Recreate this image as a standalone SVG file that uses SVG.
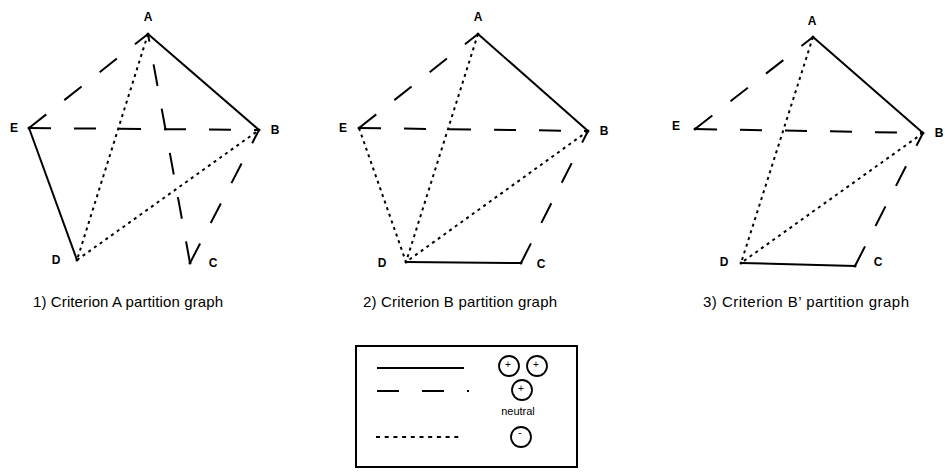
<svg xmlns="http://www.w3.org/2000/svg" width="945" height="473" viewBox="0 0 945 473">
  <style>
    .bg { fill: #ffffff; }
    .solid { stroke: #000; stroke-width: 2; fill: none; }
    .dash { stroke: #000; stroke-width: 2; fill: none; stroke-dasharray: 22 23; }
    .dot { stroke: #000; stroke-width: 2; fill: none; stroke-dasharray: 3 4; }
    .lbl { font-family: "Liberation Sans", Arial, sans-serif; font-weight: bold; font-size: 12px; fill: #000; text-anchor: middle; }
    .cap { font-family: "Liberation Sans", Arial, sans-serif; font-size: 15px; fill: #000; }
    .vtx { fill: #000; }
    .sym { stroke: #000; stroke-width: 1.8; fill: none; }
    .sign { font-family: "Liberation Sans", Arial, sans-serif; font-size: 10px; fill: #000; text-anchor: middle; }
    .word { font-family: "Liberation Sans", Arial, sans-serif; font-size: 11px; fill: #000; text-anchor: middle; }
  </style>
  <rect class="bg" x="0" y="0" width="945" height="473"/>

  <!-- Graph 1 -->
  <g id="graph1-edges">
    <line class="solid" x1="148" y1="34" x2="259" y2="130"/>
    <line class="dash" x1="29" y1="128" x2="148" y2="34"/>
    <line class="dash" x1="29" y1="128" x2="259" y2="130"/>
    <line class="dash" x1="190" y1="263" x2="148" y2="34"/>
    <line class="dash" x1="190" y1="263" x2="259" y2="130"/>
    <line class="solid" x1="29" y1="128" x2="77" y2="260"/>
    <line class="dot" x1="148" y1="34" x2="77" y2="260"/>
    <line class="dot" x1="77" y1="260" x2="259" y2="130"/>
  </g>
  <g id="g1-A"><circle class="vtx" cx="148" cy="34" r="1.5"/><text class="lbl" x="148" y="21">A</text></g>
  <g id="g1-B"><circle class="vtx" cx="259" cy="130" r="1.5"/><text class="lbl" x="275" y="134">B</text></g>
  <g id="g1-C"><circle class="vtx" cx="190" cy="263" r="1.5"/><text class="lbl" x="213" y="267">C</text></g>
  <g id="g1-D"><circle class="vtx" cx="77" cy="260" r="1.5"/><text class="lbl" x="56" y="264">D</text></g>
  <g id="g1-E"><circle class="vtx" cx="29" cy="128" r="1.5"/><text class="lbl" x="14" y="132">E</text></g>
  <text class="cap" x="33" y="307" textLength="190">1) Criterion A partition graph</text>

  <!-- Graph 2 -->
  <g id="graph2-edges">
    <line class="solid" x1="478" y1="34" x2="588" y2="131"/>
    <line class="dash" x1="359" y1="128" x2="478" y2="34"/>
    <line class="dash" x1="359" y1="128" x2="588" y2="131"/>
    <line class="dash" x1="521" y1="263" x2="588" y2="131"/>
    <line class="solid" x1="406" y1="262" x2="521" y2="263"/>
    <line class="dot" x1="359" y1="128" x2="406" y2="262"/>
    <line class="dot" x1="478" y1="34" x2="406" y2="262"/>
    <line class="dot" x1="588" y1="131" x2="406" y2="262"/>
  </g>
  <g id="g2-A"><circle class="vtx" cx="478" cy="34" r="1.5"/><text class="lbl" x="478" y="21">A</text></g>
  <g id="g2-B"><circle class="vtx" cx="588" cy="131" r="1.5"/><text class="lbl" x="604" y="135">B</text></g>
  <g id="g2-C"><circle class="vtx" cx="521" cy="263" r="1.5"/><text class="lbl" x="541" y="268">C</text></g>
  <g id="g2-D"><circle class="vtx" cx="406" cy="262" r="1.5"/><text class="lbl" x="382" y="267">D</text></g>
  <g id="g2-E"><circle class="vtx" cx="359" cy="128" r="1.5"/><text class="lbl" x="343" y="132">E</text></g>
  <text class="cap" x="363" y="307" textLength="194">2) Criterion B partition graph</text>

  <!-- Graph 3 -->
  <g id="graph3-edges">
    <line class="solid" x1="813" y1="37" x2="923" y2="133"/>
    <line class="dash" x1="695" y1="129" x2="813" y2="37"/>
    <line class="dash" x1="695" y1="129" x2="923" y2="133"/>
    <line class="dash" x1="855" y1="266" x2="923" y2="133"/>
    <line class="solid" x1="741" y1="263" x2="855" y2="266"/>
    <line class="dot" x1="813" y1="37" x2="741" y2="263"/>
    <line class="dot" x1="923" y1="133" x2="741" y2="263"/>
  </g>
  <g id="g3-A"><circle class="vtx" cx="813" cy="37" r="1.5"/><text class="lbl" x="812" y="25">A</text></g>
  <g id="g3-B"><circle class="vtx" cx="923" cy="133" r="1.5"/><text class="lbl" x="939" y="137">B</text></g>
  <g id="g3-C"><circle class="vtx" cx="855" cy="266" r="1.5"/><text class="lbl" x="878" y="266">C</text></g>
  <g id="g3-D"><circle class="vtx" cx="741" cy="263" r="1.5"/><text class="lbl" x="724" y="266">D</text></g>
  <g id="g3-E"><circle class="vtx" cx="695" cy="129" r="1.5"/><text class="lbl" x="676" y="130">E</text></g>
  <text class="cap" x="703" y="307" textLength="206">3) Criterion B’ partition graph</text>

  <!-- Legend -->
  <g id="legend">
    <rect x="356" y="346" width="221" height="121" fill="none" stroke="#000" stroke-width="2"/>
    <line class="solid" x1="377" y1="368" x2="464" y2="368"/>
    <line class="dash" x1="377" y1="391" x2="469" y2="391"/>
    <line class="solid" x1="376" y1="437" x2="463" y2="437" stroke-dasharray="4 4.7"/>
    <circle class="sym" cx="509" cy="366" r="10"/>
    <text class="sign" x="508" y="368">+</text>
    <circle class="sym" cx="537" cy="366" r="10"/>
    <text class="sign" x="536" y="368">+</text>
    <circle class="sym" cx="522" cy="390" r="10"/>
    <text class="sign" x="521" y="392">+</text>
    <text class="word" x="518" y="415">neutral</text>
    <circle class="sym" cx="521" cy="437" r="10"/>
    <text class="sign" x="520" y="436">-</text>
  </g>
</svg>
